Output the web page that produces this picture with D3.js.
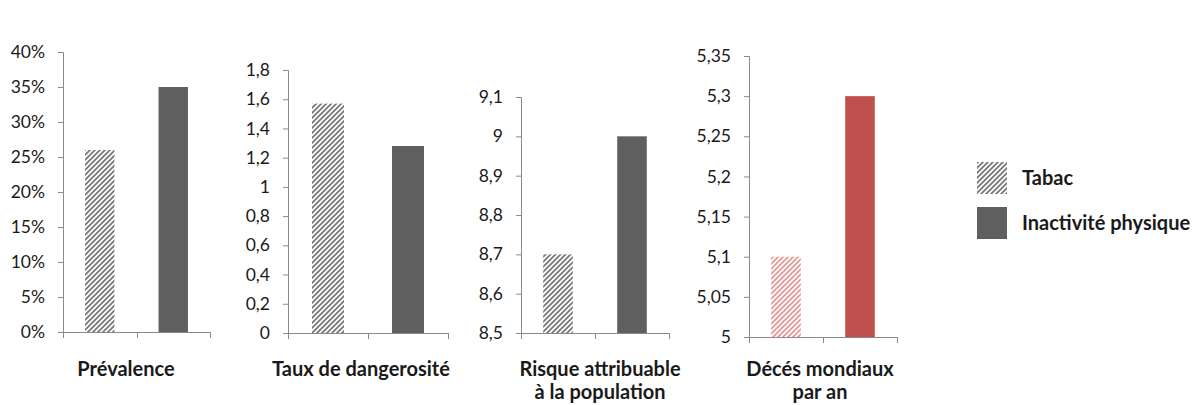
<!DOCTYPE html>
<html><head><meta charset="utf-8">
<script src="https://cdn.jsdelivr.net/npm/d3@7"></script>
<style>
html,body{margin:0;padding:0;background:#fff;}
svg{display:block;}
</style></head>
<body>
<svg id="chart" width="1201" height="405"></svg>
<script>
// ---------- DATA ----------
const categories = ["Prévalence", "Taux de dangerosité", "Risque attribuable à la population", "Décés mondiaux par an"];
const categoryLabelLines = [["Prévalence"], ["Taux de dangerosité"], ["Risque attribuable", "à la population"], ["Décés mondiaux", "par an"]];
const seriesNames = ["Tabac", "Inactivité physique"];
const tabacValues = [0.26, 1.57, 8.7, 5.1];
const inactiviteValues = [0.35, 1.28, 9.0, 5.3];
const yMin = [0, 0, 8.5, 5];
const yMax = [0.4, 1.8, 9.1, 5.35];
const tickValues1 = [0, 0.05, 0.1, 0.15, 0.2, 0.25, 0.3, 0.35, 0.4];
const tickLabels1 = ["0%", "5%", "10%", "15%", "20%", "25%", "30%", "35%", "40%"];
const tickValues2 = [0, 0.2, 0.4, 0.6, 0.8, 1, 1.2, 1.4, 1.6, 1.8];
const tickLabels2 = ["0", "0,2", "0,4", "0,6", "0,8", "1", "1,2", "1,4", "1,6", "1,8"];
const tickValues3 = [8.5, 8.6, 8.7, 8.8, 8.9, 9, 9.1];
const tickLabels3 = ["8,5", "8,6", "8,7", "8,8", "8,9", "9", "9,1"];
const tickValues4 = [5, 5.05, 5.1, 5.15, 5.2, 5.25, 5.3, 5.35];
const tickLabels4 = ["5", "5,05", "5,1", "5,15", "5,2", "5,25", "5,3", "5,35"];

// ---------- LAYOUT / STYLE ----------
const layout = [
  {x0: 63,  x1: 210, yTop: 52, yBot: 332, labelX: 126, hatch: "hatchGray", solid: "#5f5f5f"},
  {x0: 288, x1: 448, yTop: 70, yBot: 333, labelX: 361, hatch: "hatchGray", solid: "#5f5f5f"},
  {x0: 521, x1: 669, yTop: 97, yBot: 333, labelX: 600, hatch: "hatchGray", solid: "#5f5f5f"},
  {x0: 749, x1: 897, yTop: 56, yBot: 337, labelX: 820, hatch: "hatchRed",  solid: "#c0504d"}
];
const tickVals = [tickValues1, tickValues2, tickValues3, tickValues4];
const tickLabs = [tickLabels1, tickLabels2, tickLabels3, tickLabels4];
const axisColor = "#8a8a8a";
const FONT = "Lato, 'Open Sans', sans-serif";

const svg = d3.select("#chart");
const defs = svg.append("defs");
function makeHatch(id, color) {
  const p = defs.append("pattern").attr("id", id).attr("patternUnits", "userSpaceOnUse")
    .attr("width", 5).attr("height", 5);
  p.append("rect").attr("width", 5).attr("height", 5).attr("fill", "#fff");
  p.append("path").attr("d", "M-1.25,1.25 L1.25,-1.25 M0,5 L5,0 M3.75,6.25 L6.25,3.75")
    .attr("stroke", color).attr("stroke-width", 1.9);
}
makeHatch("hatchGray", "#7a7a7a");
makeHatch("hatchRed", "#e49a98");

categories.forEach((cat, i) => {
  const L = layout[i];
  const g = svg.append("g");
  const y = d3.scaleLinear().domain([yMin[i], yMax[i]]).range([L.yBot, L.yTop]);
  const x = d3.scaleBand().domain(seriesNames).range([L.x0, L.x1]).paddingInner(0.6).paddingOuter(0.3);

  // bars
  const vals = [tabacValues[i], inactiviteValues[i]];
  g.selectAll("rect.bar").data(seriesNames).enter().append("rect")
    .attr("class", "bar")
    .attr("x", d => x(d))
    .attr("width", x.bandwidth())
    .attr("y", (d, k) => y(vals[k]))
    .attr("height", (d, k) => y(yMin[i]) - y(vals[k]))
    .attr("fill", (d, k) => k === 0 ? `url(#${L.hatch})` : L.solid);

  // y axis
  const labs = tickLabs[i];
  const yAxis = d3.axisLeft(y).tickValues(tickVals[i]).tickSize(5).tickPadding(13)
    .tickFormat((d, k) => labs[k]);
  const ya = g.append("g").attr("transform", `translate(${L.x0},0)`).call(yAxis);
  ya.select(".domain").attr("stroke", axisColor).attr("d", `M-5,${L.yTop + 0.5}H0.5V${L.yBot + 0.5}`);
  ya.selectAll(".tick line").attr("stroke", axisColor);
  ya.selectAll(".tick text").attr("fill", "#1a1a1a").style("font-family", FONT).style("font-size", "17.5px");

  // x axis (category boundaries)
  const boundaries = [L.x0, L.x0 + (L.x1 - L.x0) / 2, L.x1];
  const xa = g.append("g").attr("transform", `translate(0,${L.yBot})`);
  xa.append("path").attr("d", `M${L.x0},0.5H${L.x1}`).attr("stroke", axisColor).attr("fill", "none");
  xa.selectAll("line").data(boundaries).enter().append("line")
    .attr("x1", d => Math.round(d) + 0.5).attr("x2", d => Math.round(d) + 0.5)
    .attr("y1", 0).attr("y2", 6).attr("stroke", axisColor);

  // category label
  const t = g.append("text").attr("text-anchor", "middle")
    .style("font-family", FONT).style("font-weight", "bold").style("font-size", "20px").attr("fill", "#1a1a1a");
  categoryLabelLines[i].forEach((line, k) => {
    t.append("tspan").attr("x", L.labelX).attr("y", 376 + k * 23).text(line);
  });
});

// legend
const legend = svg.append("g");
const legendItems = [
  {name: seriesNames[0], fill: "url(#hatchGray)", y: 162},
  {name: seriesNames[1], fill: "#5f5f5f", y: 207}
];
legendItems.forEach(it => {
  legend.append("rect").attr("x", 977).attr("y", it.y).attr("width", 30).attr("height", 32).attr("fill", it.fill);
  legend.append("text").attr("x", 1022).attr("y", it.y + 23).text(it.name)
    .style("font-family", FONT).style("font-weight", "bold").style("font-size", "20px").attr("fill", "#1a1a1a");
});
</script>
</body></html>
